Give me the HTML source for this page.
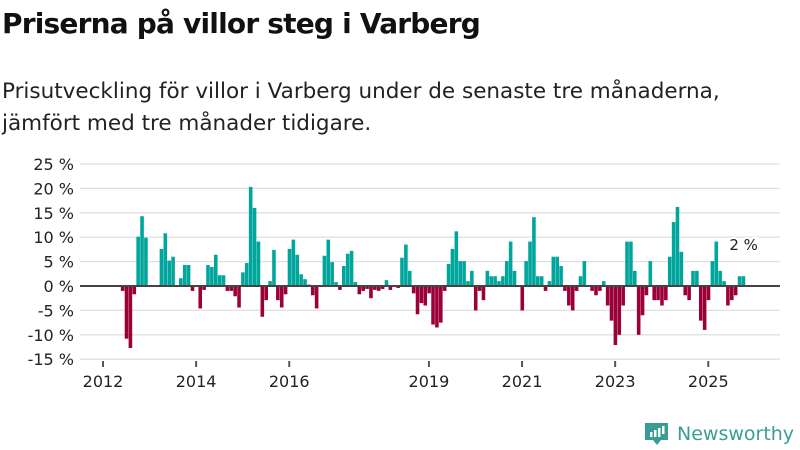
<!DOCTYPE html>
<html><head><meta charset="utf-8"><style>
body{margin:0;background:#fff;font-family:"Liberation Sans","DejaVu Sans",sans-serif;}
#wrap{position:relative;width:800px;height:450px;overflow:hidden;}
</style></head><body>
<div id="wrap">
<svg width="800" height="450" xmlns="http://www.w3.org/2000/svg">
<text x="2" y="33" font-size="28" font-weight="bold" fill="#111" font-family="DejaVu Sans, sans-serif" letter-spacing="-0.8">Priserna på villor steg i Varberg</text>
<text x="2" y="98" font-size="21.5" fill="#222" font-family="DejaVu Sans, sans-serif">Prisutveckling för villor i Varberg under de senaste tre månaderna,</text>
<text x="2" y="130" font-size="21.5" fill="#222" font-family="DejaVu Sans, sans-serif">jämfört med tre månader tidigare.</text>
<g id="grid"></g><g id="bars"></g><g id="axes"></g>
<g>
<path d="M645 423 h23 v17 h-7 l-4 5 l-4 -5 h-8 z" fill="#3a9d94"/>
<rect x="650" y="432" width="2.5" height="5" fill="#fff"/><rect x="654" y="430" width="2.5" height="7" fill="#fff"/><rect x="658" y="428" width="2.5" height="9" fill="#fff"/><rect x="662" y="426" width="2.5" height="8" fill="#fff"/>
<text x="677" y="440" font-size="19" fill="#3a9d94" font-family="DejaVu Sans, sans-serif">Newsworthy</text>
</g>
</svg></div>
<script>
const values=[-1,-10.8,-12.7,-1.7,10.1,14.3,9.9,0,0,0,7.6,10.8,5.2,6,0,1.6,4.3,4.3,-1,0,-4.6,-0.8,4.3,3.9,6.4,2.2,2.2,-1,-1,-2.1,-4.4,2.8,4.7,20.3,16,9.1,
-6.3,-2.9,1,7.4,-2.9,-4.4,-1.7,7.6,9.5,6.4,2.4,1.4,0.3,-1.9,-4.6,0,6.2,9.5,4.9,0.8,-0.8,4.1,6.6,7.2,0.8,-1.7,-1,-0.6,-2.5,-0.8,-1,-0.6,1.2,-0.8,0,-0.4,5.8,8.5,3.1,-1.5,-5.8,-3.5,-4,-1.5,
-7.9,-8.5,-7.5,-1,4.5,7.6,11.2,5.1,5.1,1,3.1,-5,-1,-2.9,3.1,2,2,1,2,5.1,9.1,3.1,0,-5,5.1,9.1,14.1,2,2,-1,1,6,6,4.1,-1,-4,-5,-1,2,5.1,0,-1,-1.9,-1,
1,-4,-7.1,-12.1,-10,-4,9.1,9.1,3.1,-10,-6,-1.9,5.1,-2.9,-2.9,-4,-2.9,6,13.1,16.2,7,-1.9,-2.9,3.1,3.1,-7.1,-9,-2.9,5.1,9.1,3.1,1,-4,-2.9,-1.9,2,2];
const yTicks=[25,20,15,10,5,0,-5,-10,-15];
const xTickYears=[2012,2014,2016,2019,2021,2023,2025];
const firstMonth=4.6;
const lastLabel="2 %";
const NS="http://www.w3.org/2000/svg";
const X0=80,X1=780;
function y(v){return 286-v*4.88;}
function x(m){return 103+m*3.88;}
function mk(t,a,p){const e=document.createElementNS(NS,t);for(const k in a)e.setAttribute(k,a[k]);p.appendChild(e);return e;}
const grid=document.getElementById('grid'),bars=document.getElementById('bars'),axes=document.getElementById('axes');
yTicks.forEach(v=>{
 if(v!==0){const l=mk('line',{x1:X0,x2:X1,y1:y(v),y2:y(v),stroke:'#e0e0e0','stroke-width':1.3},grid);
 
 }
 const t=mk('text',{x:74,y:y(v)+6,'text-anchor':'end','font-size':16,fill:'#222','font-family':'DejaVu Sans, sans-serif'},axes);
 t.textContent=v+' %';
 
 
});
const w=3.88;
values.forEach((v,i)=>{
 if(v===0)return;
 const m=firstMonth+i;
 const r=mk('rect',{x:x(m),width:w-0.3,y:Math.min(y(v),y(0)),height:Math.abs(y(v)-y(0)),fill:v>0?'#00a59b':'#9b0039'},bars);
 
 
});
const z=mk('line',{x1:X0,x2:X1,y1:y(0),y2:y(0),stroke:'#444','stroke-width':2},axes);


xTickYears.forEach(yr=>{
 const xx=x((yr-2012)*12);
 const tk=mk('line',{x1:xx,x2:xx,y1:361,y2:367,stroke:'#555','stroke-width':2},axes);
 
 
 const t=mk('text',{x:xx,y:387,'text-anchor':'middle','font-size':16,fill:'#222','font-family':'DejaVu Sans, sans-serif'},axes);
 t.textContent=yr;
 
 
});
const lastX=x(firstMonth+values.length-1);
const lb=mk('text',{x:lastX+2,y:y(values[values.length-1])-26,'text-anchor':'middle','font-size':15,fill:'#222',stroke:'#fff','stroke-width':4,'paint-order':'stroke','font-family':'DejaVu Sans, sans-serif'},axes);
lb.textContent=lastLabel;


</script>
</body></html>
